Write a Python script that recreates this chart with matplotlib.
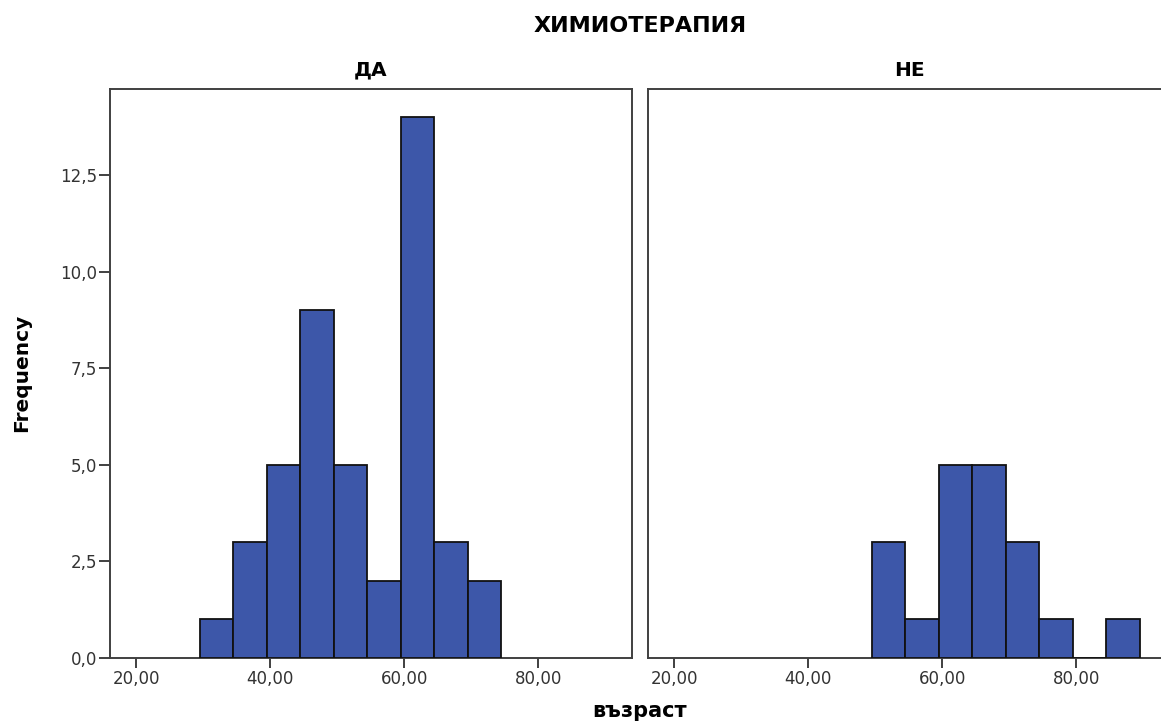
import matplotlib
matplotlib.use("Agg")
import matplotlib.pyplot as plt
from matplotlib.ticker import FuncFormatter, FixedLocator

# Data
panel_titles = ["ДА", "НЕ"]
bins_da = [29.5, 34.5, 39.5, 44.5, 49.5, 54.5, 59.5, 64.5, 69.5]
counts_da = [1, 3, 5, 9, 5, 2, 14, 3, 2]
bins_ne = [49.5, 54.5, 59.5, 64.5, 69.5, 74.5, 79.5, 84.5]
counts_ne = [3, 1, 5, 5, 3, 1, 0, 1]
bin_width = 5
x_ticks = [20, 40, 60, 80]
y_ticks = [0, 2.5, 5, 7.5, 10, 12.5]
main_title = "ХИМИОТЕРАПИЯ"
x_label = "възраст"
y_label = "Frequency"

W, H = 1161, 725
fig = plt.figure(figsize=(W / 100, H / 100), dpi=100)
fig.patch.set_facecolor("white")

bar_color = "#3D57A9"
spine_color = "#404040"
font_main = ["DejaVu Sans"]

def px(x0, y0, x1, y1):
    return [x0 / W, 1 - y1 / H, (x1 - x0) / W, (y1 - y0) / H]

ax1 = fig.add_axes(px(110, 89, 632, 658))
ax2 = fig.add_axes(px(648, 89, 1170, 658))

for ax, bins, counts, title in [(ax1, bins_da, counts_da, panel_titles[0]),
                                (ax2, bins_ne, counts_ne, panel_titles[1])]:
    ax.bar(bins, counts, width=bin_width, align="edge", color=bar_color,
           edgecolor="#111111", linewidth=1.3, zorder=3)
    ax.set_xlim(16.1, 94.0)
    ax.set_ylim(0, 14.73)
    for s in ax.spines.values():
        s.set_color(spine_color)
        s.set_linewidth(1.4)
    ax.xaxis.set_major_locator(FixedLocator(x_ticks))
    ax.xaxis.set_major_formatter(FuncFormatter(lambda v, p: f"{v:.2f}".replace(".", ",")))
    ax.tick_params(axis="x", direction="out", length=7, width=1.4, color=spine_color,
                   labelsize=12, labelcolor="#333333", pad=2)
    for lab in ax.get_xticklabels():
        lab.set_family(font_main)
    fig.text((ax.get_position().x0 + ax.get_position().x1) / 2, 1 - 70 / H, title,
             ha="center", va="center", fontsize=14.5, fontweight="bold",
             family=font_main, color="black")

ax1.yaxis.set_major_locator(FixedLocator(y_ticks))
ax1.yaxis.set_major_formatter(FuncFormatter(lambda v, p: f"{v:.1f}".replace(".", ",")))
ax1.tick_params(axis="y", direction="out", length=8, width=1.4, color=spine_color,
                labelsize=12, labelcolor="#333333", pad=1)
for lab in ax1.get_yticklabels():
    lab.set_family(font_main)
ax2.tick_params(axis="y", left=False, labelleft=False)

fig.text(640 / W, 1 - 26 / H, main_title, ha="center", va="center",
         fontsize=16, fontweight="bold", family=font_main, color="black")
fig.text(640 / W, 1 - 711 / H, x_label, ha="center", va="center",
         fontsize=15, fontweight="bold", family=font_main, color="black")
fig.text(22 / W, 1 - 373 / H, y_label, ha="center", va="center", rotation=90,
         fontsize=14.5, fontweight="bold", family=font_main, color="black")

fig.savefig("out.png", dpi=100)
